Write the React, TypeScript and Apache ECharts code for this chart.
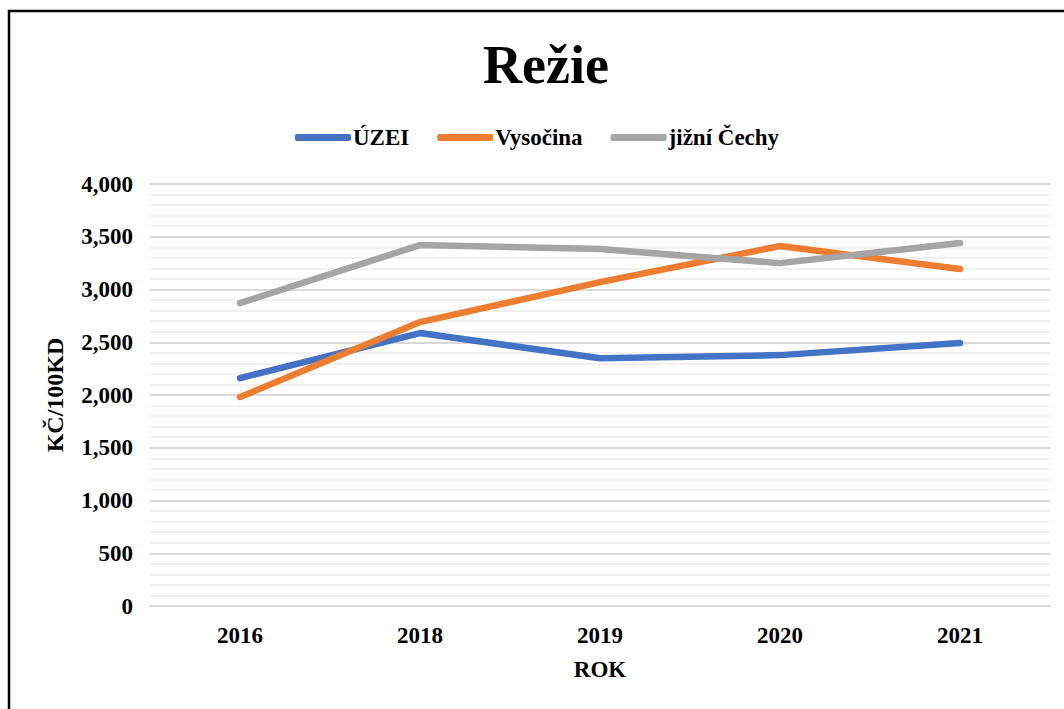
import React, { useEffect, useRef } from "react";
import * as echarts from "echarts";

const years = ["2016", "2018", "2019", "2020", "2021"];
const uzei = [2160, 2587, 2349, 2378, 2492];
const vysocina = [1980, 2691, 3070, 3412, 3194];
const jizniCechy = [2871, 3421, 3383, 3250, 3440];

const FONT = "'Liberation Serif', 'Times New Roman', serif";

export default function App() {
  const ref = useRef<HTMLDivElement>(null);
  useEffect(() => {
    const chart = echarts.init(ref.current!, null, { renderer: "svg" });
    const mk = (name: string, data: number[], color: string) => ({
      name,
      type: "line",
      data,
      symbol: "none",
      lineStyle: { width: 6.5, color, cap: "round", join: "round" },
      itemStyle: { color },
    });
    chart.setOption({
      animation: false,
      backgroundColor: "#ffffff",
      textStyle: { fontFamily: FONT },
      title: {
        text: "Režie",
        left: 478,
        top: 33,
        textStyle: { fontFamily: FONT, fontSize: 54, fontWeight: "bold", color: "#000" },
      },
      legend: {
        top: 121,
        left: 290,
        icon: "roundRect",
        itemWidth: 56,
        itemHeight: 7,
        itemGap: 28,
        textStyle: { fontFamily: FONT, fontSize: 23, fontWeight: "bold", color: "#000", padding: [0, 0, 0, -3] },
        data: ["ÚZEI", "Vysočina", "jižní Čechy"],
      },
      grid: { left: 150, right: 14, top: 184, bottom: 103, containLabel: false },
      xAxis: {
        type: "category",
        data: years,
        boundaryGap: true,
        name: "ROK",
        nameLocation: "middle",
        nameGap: 52,
        nameTextStyle: { fontFamily: FONT, fontSize: 23, fontWeight: "bold", color: "#000" },
        axisLine: { show: true, lineStyle: { color: "#d9d9d9", width: 2 } },
        axisTick: { show: false },
        axisLabel: { fontFamily: FONT, fontSize: 23, fontWeight: "bold", color: "#000", margin: 18 },
      },
      yAxis: {
        type: "value",
        min: 0,
        max: 4000,
        interval: 500,
        name: "KČ/100KD",
        nameLocation: "middle",
        nameRotate: 90,
        nameGap: 83,
        nameTextStyle: { fontFamily: FONT, fontSize: 24, fontWeight: "bold", color: "#000" },
        axisLine: { show: false },
        axisTick: { show: false },
        axisLabel: {
          fontFamily: FONT,
          fontSize: 23,
          fontWeight: "bold",
          color: "#000",
          margin: 17,
          formatter: (v: number) => v.toLocaleString("en-US"),
        },
        splitLine: { show: true, lineStyle: { color: "#d9d9d9", width: 2 } },
        minorTick: { show: false, splitNumber: 5 },
        minorSplitLine: { show: true, lineStyle: { color: "#f0f0f0", width: 2 } },
      },
      graphic: [
        {
          type: "rect",
          shape: { x: 9, y: 11, width: 1200, height: 900 },
          style: { fill: "none", stroke: "#000", lineWidth: 2.5 },
          silent: true,
        },
      ],
      series: [
        mk("ÚZEI", uzei, "#4472C4"),
        mk("Vysočina", vysocina, "#ED7D31"),
        mk("jižní Čechy", jizniCechy, "#A5A5A5"),
      ],
    });
    return () => chart.dispose();
  }, []);
  return (
    <div
      ref={ref}
      style={{ position: "absolute", left: 0, top: 0, width: 1064, height: 709 }}
    />
  );
}
